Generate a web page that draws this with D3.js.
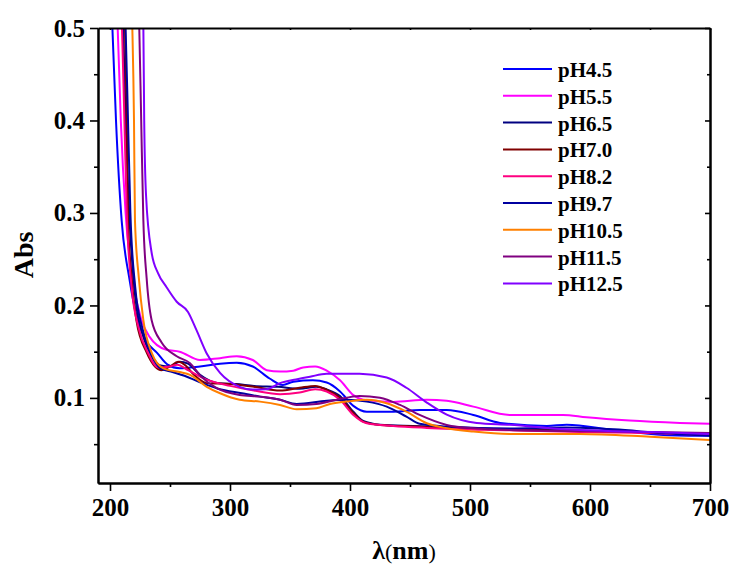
<!DOCTYPE html>
<html>
<head>
<meta charset="utf-8">
<script src="https://cdn.jsdelivr.net/npm/d3@7"></script>
<style>
    body { margin: 0; background: #fff; }
    #chart text { font-family: "Liberation Serif", "Times New Roman", serif; font-weight: bold; }
</style>
</head>
<body>
<div id="chart"></div>
<script>
// Absorbance spectra: [wavelength nm, Abs]
let ph45 = [[200, 0.56], [202, 0.5], [205, 0.40], [209.7, 0.292], [216, 0.23], [223, 0.184], [231, 0.16], [239, 0.149], [248, 0.136], [258, 0.132], [275, 0.134], [291.7, 0.137], [305.6, 0.138], [319, 0.134], [333, 0.121], [344, 0.114], [352.8, 0.1176], [369, 0.119], [380.6, 0.1166], [391.7, 0.107], [402.8, 0.0914], [414, 0.085], [436, 0.085], [458, 0.087], [480.6, 0.087], [502.8, 0.0816], [525, 0.073], [564, 0.0697], [580.6, 0.071], [619, 0.0654], [661, 0.060], [700, 0.059]];
let ph55 = [[204, 0.56], [206.4, 0.5], [209, 0.40], [213, 0.30], [220, 0.22], [226, 0.185], [233, 0.166], [247, 0.152], [258, 0.150], [275, 0.141], [291.7, 0.143], [305.6, 0.145], [319, 0.141], [330.6, 0.130], [341.7, 0.1285], [352.8, 0.1295], [361, 0.133], [371, 0.134], [380.6, 0.1295], [391.7, 0.119], [402.8, 0.103], [411, 0.098], [436, 0.0957], [464, 0.098], [480.6, 0.097], [502.8, 0.0906], [533, 0.0816], [577.5, 0.0816], [597, 0.079], [633, 0.0755], [675, 0.073], [700, 0.072]];
let ph65 = [[208, 0.6], [211, 0.5], [213, 0.40], [216, 0.30], [221, 0.21], [228, 0.165], [235, 0.145], [242, 0.135], [250, 0.134], [258, 0.139], [265, 0.137], [275, 0.125], [290, 0.116], [305, 0.115], [320, 0.113], [340, 0.112], [358, 0.110], [372, 0.112], [381, 0.109], [391.7, 0.102], [402.8, 0.085], [411, 0.075], [425, 0.071], [458, 0.0695], [480, 0.068], [533, 0.066], [580, 0.065], [620, 0.064], [660, 0.062], [700, 0.060]];
let ph70 = [[209, 0.6], [212.5, 0.5], [214, 0.40], [215, 0.292], [218, 0.23], [222, 0.184], [230.6, 0.149], [237.5, 0.134], [243, 0.130], [250, 0.134], [256.7, 0.139], [263, 0.135], [270, 0.125], [280.6, 0.116], [300, 0.115], [320, 0.112], [341.7, 0.108], [358, 0.111], [371, 0.113], [380.6, 0.1086], [391.7, 0.100], [402.8, 0.0838], [411, 0.0744], [425, 0.0708], [458, 0.069], [480.6, 0.0676], [533, 0.0654], [600, 0.064], [650, 0.063], [700, 0.061]];
let ph82 = [[207, 0.6], [210, 0.5], [212, 0.40], [214, 0.30], [218, 0.22], [224, 0.175], [232, 0.148], [240, 0.133], [250, 0.134], [256, 0.136], [265, 0.130], [280, 0.120], [300, 0.113], [320, 0.108], [341.7, 0.104], [358, 0.1058], [371, 0.1094], [380.6, 0.107], [391.7, 0.098], [402.8, 0.0816], [414, 0.0726], [436, 0.0697], [464, 0.0676], [533, 0.065], [600, 0.063], [650, 0.062], [700, 0.060]];
let ph97 = [[209, 0.6], [213, 0.5], [215, 0.40], [217, 0.30], [221, 0.22], [227, 0.175], [234, 0.148], [242, 0.132], [252, 0.128], [262, 0.124], [275, 0.117], [290, 0.110], [310, 0.105], [325, 0.1014], [341.7, 0.098], [355.6, 0.0935], [380.6, 0.097], [397, 0.098], [414, 0.096], [430.6, 0.0906], [447, 0.0798], [458, 0.072], [480.6, 0.069], [533, 0.067], [580, 0.068], [620, 0.066], [660, 0.062], [700, 0.059]];
let ph105 = [[215, 0.6], [218.6, 0.5], [220, 0.40], [220.8, 0.292], [224, 0.23], [227.8, 0.184], [234.7, 0.149], [244.4, 0.132], [258, 0.128], [266.7, 0.125], [280.6, 0.112], [291.7, 0.105], [308, 0.098], [325, 0.096], [341.7, 0.0924], [355.6, 0.0878], [372, 0.0889], [383.3, 0.0935], [397, 0.096], [414, 0.098], [430.6, 0.0943], [447, 0.0852], [464, 0.0726], [480.6, 0.0672], [502.8, 0.0636], [533, 0.0611], [591.7, 0.061], [650, 0.058], [700, 0.0546]];
let ph115 = [[221, 0.6], [224.4, 0.5], [226, 0.40], [227.8, 0.292], [230.5, 0.23], [234.7, 0.184], [243, 0.16], [255.6, 0.145], [266.7, 0.1375], [276, 0.123], [289, 0.1105], [308, 0.1032], [325, 0.1014], [341.7, 0.098], [355.6, 0.0924], [372, 0.0935], [389, 0.098], [408, 0.1022], [425, 0.1003], [441.7, 0.0924], [458, 0.0816], [480.6, 0.0708], [505.6, 0.067], [533, 0.0654], [600, 0.064], [650, 0.063], [700, 0.062]];
let ph125 = [[224, 0.6], [227.8, 0.5], [228.5, 0.40], [230, 0.32], [234.7, 0.257], [240, 0.235], [247, 0.220], [255.6, 0.204], [265, 0.193], [272, 0.1735], [280.6, 0.148], [291.7, 0.127], [308, 0.112], [319, 0.109], [330.6, 0.1095], [341.7, 0.116], [355, 0.120], [366.7, 0.123], [380.6, 0.126], [408, 0.126], [430.6, 0.122], [447, 0.111], [464, 0.095], [480.6, 0.082], [505.6, 0.073], [533, 0.071], [580, 0.066], [620, 0.064], [660, 0.063], [700, 0.061]];

let seriesNames = ["pH4.5", "pH5.5", "pH6.5", "pH7.0", "pH8.2", "pH9.7", "pH10.5", "pH11.5", "pH12.5"];
let seriesData = [ph45, ph55, ph65, ph70, ph82, ph97, ph105, ph115, ph125];

// tick values
let xMajor = [200, 300, 400, 500, 600, 700];
let xMinor = [250, 350, 450, 550, 650];
let yMajor = [0.1, 0.2, 0.3, 0.4, 0.5];
let yMinor = [0.05, 0.15, 0.25, 0.35, 0.45];

// line colours, same order as the names
let colors = ["#0000ff", "#ff00ff", "#000080", "#800000", "#ff0080", "#0000a0", "#ff8000", "#800080", "#8000ff"];

let W = 731, H = 567;
let plot = {left: 98, right: 710, top: 28, bottom: 483};

let svg = d3.select("#chart")
    .append("svg")
    .attr("width", W)
    .attr("height", H);

let x = d3.scaleLinear()
    .domain([190, 700])
    .range([plot.left, plot.right]);

let y = d3.scaleLinear()
    .domain([0.008, 0.5])
    .range([plot.bottom, plot.top]);

svg.append("clipPath")
    .attr("id", "clip")
    .append("rect")
    .attr("x", plot.left)
    .attr("y", plot.top)
    .attr("width", plot.right - plot.left)
    .attr("height", plot.bottom - plot.top);

// spectra
let line = d3.line()
    .x(function (d) { return x(d[0]); })
    .y(function (d) { return y(d[1]); })
    .curve(d3.curveMonotoneX);

svg.append("g")
    .attr("clip-path", "url(#clip)")
    .selectAll("path")
    .data(seriesData)
    .enter()
    .append("path")
    .attr("d", line)
    .attr("fill", "none")
    .attr("stroke", function (d, i) { return colors[i]; })
    .attr("stroke-width", 2);

// axes
function styleAxis(g) {
    g.select(".domain").attr("stroke", "#000").attr("stroke-width", 2);
    g.selectAll(".tick line").attr("stroke", "#000").attr("stroke-width", 1.6);
    g.selectAll(".tick text")
        .attr("fill", "#000")
        .style("font-size", "25px");
}

svg.append("g")
    .attr("transform", "translate(0," + plot.bottom + ")")
    .call(d3.axisBottom(x).tickValues(xMinor).tickSize(4).tickSizeOuter(0).tickFormat(""))
    .call(styleAxis);
svg.append("g")
    .attr("transform", "translate(0," + plot.bottom + ")")
    .call(d3.axisBottom(x).tickValues(xMajor).tickSize(8).tickSizeOuter(0).tickPadding(7).tickFormat(d3.format("d")))
    .call(styleAxis);

svg.append("g")
    .attr("transform", "translate(" + plot.left + ",0)")
    .call(d3.axisLeft(y).tickValues(yMinor).tickSize(4).tickSizeOuter(0).tickFormat(""))
    .call(styleAxis);
svg.append("g")
    .attr("transform", "translate(" + plot.left + ",0)")
    .call(d3.axisLeft(y).tickValues(yMajor).tickSize(8).tickSizeOuter(0).tickPadding(5).tickFormat(d3.format(".1f")))
    .call(styleAxis);

svg.append("g")
    .attr("transform", "translate(0," + plot.top + ")")
    .call(d3.axisTop(x).tickValues(xMajor.concat(xMinor)).tickSize(-2).tickSizeOuter(0).tickFormat(""))
    .call(styleAxis);

svg.append("g")
    .attr("transform", "translate(" + plot.right + ",0)")
    .call(d3.axisRight(y).tickValues(yMajor).tickSize(-5).tickSizeOuter(0).tickFormat(""))
    .call(styleAxis);
svg.append("g")
    .attr("transform", "translate(" + plot.right + ",0)")
    .call(d3.axisRight(y).tickValues(yMinor).tickSize(-3).tickSizeOuter(0).tickFormat(""))
    .call(styleAxis);

// axis titles
svg.append("text")
    .attr("transform", "translate(33,255) rotate(-90)")
    .attr("text-anchor", "middle")
    .style("font-size", "28px")
    .text("Abs");

let xt = svg.append("text")
    .attr("x", 404)
    .attr("y", 559)
    .attr("text-anchor", "middle")
    .style("font-size", "26px");
xt.append("tspan").text("λ");
xt.append("tspan").style("font-weight", "normal").style("font-size", "22px").text("(");
xt.append("tspan").text("nm");
xt.append("tspan").style("font-weight", "normal").style("font-size", "22px").text(")");

// legend
let legend = svg.append("g")
    .selectAll("g")
    .data(seriesNames)
    .enter()
    .append("g")
    .attr("transform", function (d, i) { return "translate(503," + (69 + i * 26.8) + ")"; });

legend.append("line")
    .attr("x1", 0)
    .attr("x2", 49)
    .attr("stroke", function (d, i) { return colors[i]; })
    .attr("stroke-width", 2);

legend.append("text")
    .attr("x", 55)
    .attr("y", 8)
    .style("font-size", "21px")
    .text(function (d) { return d; });
</script>
</body>
</html>
